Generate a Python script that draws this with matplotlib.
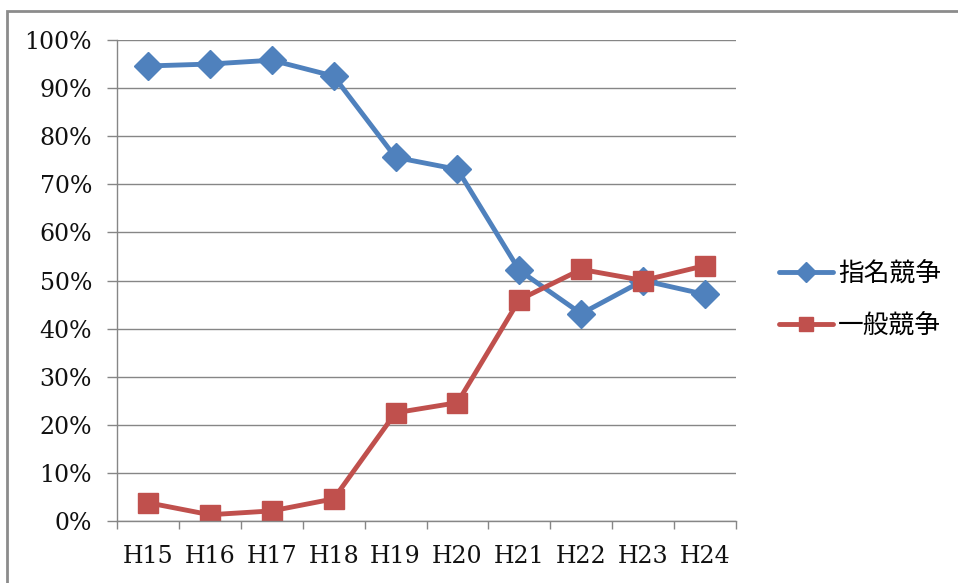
import matplotlib.pyplot as plt
from matplotlib.patches import Rectangle

years = ['H15', 'H16', 'H17', 'H18', 'H19', 'H20', 'H21', 'H22', 'H23', 'H24']
shimei = [94.6, 95.0, 95.8, 92.5, 75.6, 73.1, 52.1, 43.1, 50.0, 47.1]
ippan = [3.8, 1.3, 2.1, 4.6, 22.5, 24.6, 46.0, 52.3, 50.0, 53.1]

grid_c = '#868686'

fig = plt.figure(figsize=(9.58, 5.83), dpi=100)
ax = fig.add_axes([117 / 958, 1 - 521 / 583, (736 - 117) / 958, (521 - 40) / 583])

x = range(len(years))
ax.plot(x, shimei, color='#4F81BD', lw=3.5, marker='D', ms=14,
        label='指名競争', solid_capstyle='round')
ax.plot(x, ippan, color='#C0504D', lw=3.5, marker='s', ms=15,
        label='一般競争', solid_capstyle='round')

ax.set_xlim(-0.5, len(years) - 0.5)
ax.set_ylim(0, 100)
ax.set_yticks(range(0, 101, 10))
ax.set_yticklabels([f'{v}%' for v in range(0, 101, 10)])
ax.yaxis.grid(True, color=grid_c, lw=1)
ax.set_axisbelow(True)

# ticks at category boundaries, labels at centres
ax.set_xticks([i + 0.5 for i in range(-1, len(years))])
ax.set_xticklabels([])
ax.set_xticks(list(x), minor=True)
ax.set_xticklabels(years, minor=True)
ax.tick_params(axis='x', which='major', length=6, color=grid_c, width=1)
ax.tick_params(axis='x', which='minor', length=0, pad=17)
ax.tick_params(axis='y', length=7, color=grid_c, width=1, pad=11)

for lab in ax.get_xticklabels(minor=True) + ax.get_yticklabels():
    lab.set_fontfamily('DejaVu Serif')
    lab.set_fontsize(17)
    lab.set_color('#111111')

for s in ['top', 'right']:
    ax.spines[s].set_visible(False)
for s in ['left', 'bottom']:
    ax.spines[s].set_color(grid_c)
    ax.spines[s].set_linewidth(1)

leg = ax.legend(loc='center left', bbox_to_anchor=(1.032, 0.46), frameon=False,
                prop={'family': ['Noto Sans CJK JP', 'DejaVu Sans'], 'size': 18.5},
                handlelength=2.1, labelspacing=1.0, handletextpad=0.2,
                markerscale=0.7)

fig.patches.append(Rectangle((7 / 958, -0.1), 1.2, 1 - 11 / 583 + 0.1,
                             transform=fig.transFigure, fill=False,
                             edgecolor='#8c8c8c', lw=2))

fig.savefig('out.png', dpi=100)
